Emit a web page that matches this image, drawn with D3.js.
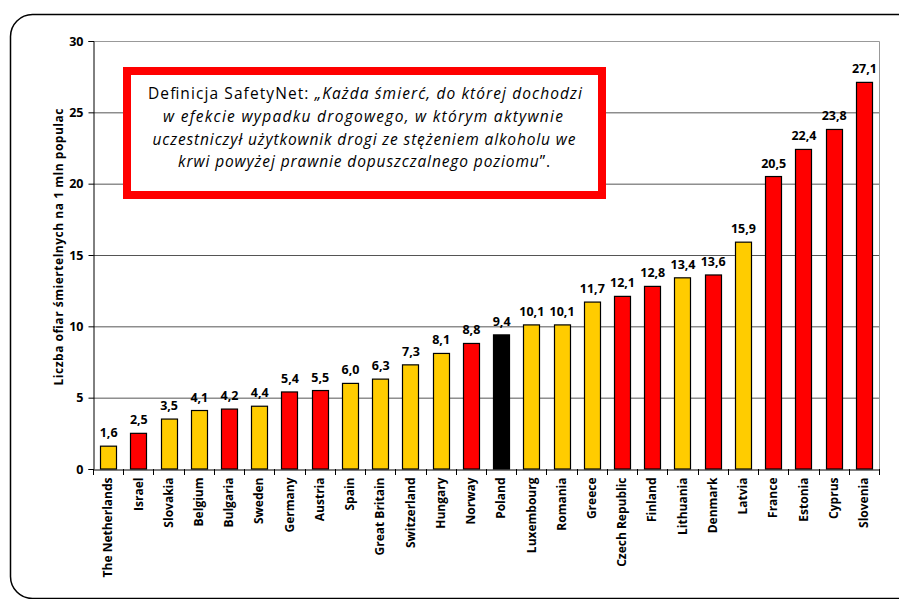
<!DOCTYPE html>
<html><head><meta charset="utf-8">
<script src="https://cdn.jsdelivr.net/npm/d3@7"></script>
<style>
html,body{margin:0;padding:0;background:#fff;}
svg{display:block;}
text{font-family:"Open Sans",sans-serif;}
</style></head>
<body>
<svg id="chart" width="899" height="599"></svg>
<script>
const categories = ["The Netherlands","Israel","Slovakia","Belgium","Bulgaria","Sweden","Germany","Austria","Spain","Great Britain","Switzerland","Hungary","Norway","Poland","Luxembourg","Romania","Greece","Czech Republic","Finland","Lithuania","Denmark","Latvia","France","Estonia","Cyprus","Slovenia"];
const values = [1.6,2.5,3.5,4.1,4.2,4.4,5.4,5.5,6.0,6.3,7.3,8.1,8.8,9.4,10.1,10.1,11.7,12.1,12.8,13.4,13.6,15.9,20.5,22.4,23.8,27.1];
const groups = ["y","r","y","y","r","y","r","r","y","y","y","y","r","p","y","y","y","r","r","y","r","y","r","r","r","r"];
const yTicks = [0,5,10,15,20,25,30];
const yTitle = "Liczba ofiar śmiertelnych  na  1  mln  populac";
const boxLines = [
  [{t:"Definicja  SafetyNet: ", i:false},{t:"„Każda  śmierć,  do  której  dochodzi", i:true}],
  [{t:"w  efekcie  wypadku  drogowego, w którym aktywnie", i:true}],
  [{t:"uczestniczył użytkownik drogi  ze stężeniem alkoholu we", i:true}],
  [{t:"krwi powyżej prawnie  dopuszczalnego poziomu", i:true},{t:"”.", i:false}]
];
const colorMap = {y:"#FFCC00", r:"#FF0000", p:"#000000"};

const svg = d3.select("#chart");
// outer rounded frame
svg.append("rect").attr("x",10.5).attr("y",14.5).attr("width",940).attr("height",584)
  .attr("rx",22).attr("fill","none").attr("stroke","#000").attr("stroke-width",1.5);

const L=93, R=879, T=41, B=469;
const x = d3.scaleBand().domain(categories).range([L,R]).paddingInner(0.47).paddingOuter(0.235);
const y = d3.scaleLinear().domain([0,30]).range([B,T]);
const tickFont = "bold 12.5px 'Open Sans', sans-serif";

// gridlines
svg.append("g").selectAll("line").data(yTicks.filter(d=>d>0&&d<30)).join("line")
  .attr("x1",L).attr("x2",R).attr("y1",d=>y(d)+0.5).attr("y2",d=>y(d)+0.5)
  .attr("stroke","#555").attr("stroke-width",1);
// plot border top/right
svg.append("path").attr("d",`M${L},${y(30)+0.5}H${R+0.5}V${B}`).attr("fill","none").attr("stroke","#999").attr("stroke-width",1);

// y axis
const yAxis = svg.append("g").attr("transform",`translate(${L+0.5},0)`)
  .call(d3.axisLeft(y).tickValues(yTicks).tickSize(5).tickPadding(5).tickFormat(d3.format("d")));
yAxis.select(".domain").attr("stroke","#000");
yAxis.selectAll(".tick line").attr("stroke","#000");
yAxis.selectAll("text").attr("fill","#000").style("font",tickFont);

// x axis
const xAxis = svg.append("g").attr("transform",`translate(0,${B+0.5})`)
  .call(d3.axisBottom(x).tickSize(0).tickPadding(0));
xAxis.select(".domain").attr("stroke","#000");
xAxis.selectAll(".tick text").attr("fill","#000")
  .attr("transform","rotate(-90)").attr("text-anchor","end").attr("dy","0.35em").attr("x",-8).attr("y",0)
  .style("font","bold 12px 'Open Sans', sans-serif");
// x boundary ticks
const step = x.step();
const bounds = d3.range(categories.length+1).map(i=>L + i*step);
svg.append("g").selectAll("line").data(bounds).join("line")
  .attr("x1",d=>Math.round(d)+0.5).attr("x2",d=>Math.round(d)+0.5).attr("y1",B).attr("y2",B+6)
  .attr("stroke","#000");

// bars
svg.append("g").selectAll("rect").data(categories).join("rect")
  .attr("x",d=>Math.round(x(d))+0.5).attr("width",Math.round(x.bandwidth()))
  .attr("y",(d,i)=>y(values[i])).attr("height",(d,i)=>B-y(values[i]))
  .attr("fill",(d,i)=>colorMap[groups[i]]).attr("stroke","#000").attr("stroke-width",1.2);

// value labels
svg.append("g").selectAll("text").data(categories).join("text")
  .attr("x",d=>x(d)+x.bandwidth()/2+0.5).attr("y",(d,i)=>y(values[i])-9)
  .attr("text-anchor","middle").style("font",tickFont)
  .text((d,i)=>d3.format(".1f")(values[i]).replace(".",","));

// y title
svg.append("text").attr("transform","translate(63,247) rotate(-90)")
  .attr("text-anchor","middle").style("font","bold 12px 'Open Sans', sans-serif")
  .attr("textLength",277).attr("lengthAdjust","spacing")
  .text(yTitle);

// definition box
svg.append("rect").attr("x",127).attr("y",71).attr("width",475).attr("height",124)
  .attr("fill","#fff").attr("stroke","#FF0000").attr("stroke-width",8);
const lineBase=[99,122,145,167];
const lineLen=[434,400,423,372];
const lineCx=[365,363,364,364];
boxLines.forEach((parts,i)=>{
  const t = svg.append("text").attr("x",lineCx[i]).attr("y",lineBase[i]).attr("text-anchor","middle")
    .attr("textLength",lineLen[i]).attr("lengthAdjust","spacing")
    .style("font-family","'Open Sans',sans-serif").style("font-size","15.5px").attr("fill","#000");
  parts.forEach(p=>t.append("tspan").attr("font-style",p.i?"italic":"normal").text(p.t));
});
</script>
</body></html>
